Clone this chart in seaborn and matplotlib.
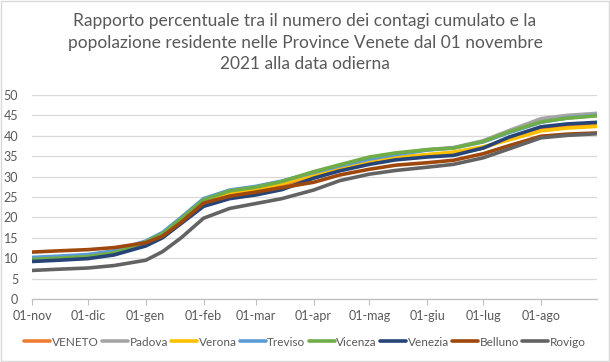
import pandas as pd
import numpy as np
import seaborn as sns
import matplotlib.pyplot as plt

# Data (percent of residents infected, cumulative)
dates = pd.to_datetime([
    "2021-11-01", "2021-11-15", "2021-12-01", "2021-12-15", "2022-01-01",
    "2022-01-10", "2022-01-20", "2022-02-01", "2022-02-15", "2022-03-01",
    "2022-03-15", "2022-04-01", "2022-04-15", "2022-05-01", "2022-05-15",
    "2022-06-01", "2022-06-15", "2022-07-01", "2022-07-15", "2022-08-01",
    "2022-08-15", "2022-08-31"])

veneto = [9.6, 9.9, 10.3, 11.1, 13.6, 15.6, 19.2, 23.6, 25.6, 26.5, 27.8, 30.0,
          31.8, 33.4, 34.4, 35.0, 35.6, 37.0, 39.4, 41.6, 42.5, 43.1]
padova = [10.0, 10.3, 10.7, 11.6, 14.0, 16.1, 19.8, 24.4, 26.5, 27.5, 28.8, 31.0,
          32.6, 34.3, 35.5, 36.6, 37.1, 38.8, 41.3, 44.2, 45.0, 45.5]
verona = [9.8, 10.1, 10.5, 11.4, 13.8, 15.8, 19.4, 24.0, 26.1, 27.0, 28.3, 30.4,
          32.2, 33.9, 34.8, 35.4, 36.0, 37.3, 39.0, 41.2, 41.9, 42.3]
treviso = [10.2, 10.5, 10.9, 11.8, 14.2, 16.3, 20.0, 24.6, 26.7, 27.6, 28.9, 31.0,
           32.6, 34.3, 35.4, 36.5, 37.0, 38.5, 40.8, 43.3, 44.4, 45.0]
vicenza = [9.7, 10.0, 10.4, 11.3, 14.0, 16.0, 19.7, 24.3, 26.5, 27.4, 28.8, 31.2,
           32.9, 34.8, 35.8, 36.6, 37.0, 38.6, 41.0, 43.4, 44.3, 44.9]
venezia = [9.2, 9.5, 9.9, 10.8, 13.0, 15.0, 18.5, 22.7, 24.6, 25.5, 26.8, 29.6,
           31.4, 33.0, 34.1, 34.8, 35.2, 37.0, 39.7, 42.2, 42.9, 43.3]
belluno = [11.5, 11.8, 12.1, 12.6, 13.8, 15.4, 18.8, 23.5, 25.2, 26.2, 27.3, 28.6,
           30.4, 31.8, 32.8, 33.4, 34.0, 35.6, 37.6, 39.9, 40.4, 40.7]
rovigo = [7.0, 7.3, 7.6, 8.2, 9.5, 11.6, 15.0, 19.8, 22.2, 23.4, 24.6, 26.7,
          29.0, 30.6, 31.5, 32.3, 33.0, 34.6, 36.8, 39.5, 40.1, 40.5]

series_names = ["VENETO", "Padova", "Verona", "Treviso", "Vicenza", "Venezia", "Belluno", "Rovigo"]
series_values = [veneto, padova, verona, treviso, vicenza, venezia, belluno, rovigo]
colors = ["#ED7D31", "#A5A5A5", "#FFC000", "#5B9BD5", "#70AD47", "#264478", "#9E480E", "#636363"]

month_ticks = pd.date_range("2021-11-01", "2022-08-01", freq="MS")
month_labels = ["01-nov", "01-dic", "01-gen", "01-feb", "01-mar", "01-apr",
                "01-mag", "01-giu", "01-lug", "01-ago"]

df = pd.concat([pd.DataFrame({"data": dates, "valore": v, "provincia": n})
                for n, v in zip(series_names, series_values)])

sns.set_theme(style="white")
plt.rcParams["font.family"] = ["Lato", "DejaVu Sans"]

fig = plt.figure(figsize=(6.1, 3.62), dpi=100)
ax = fig.add_axes([0.0525, 0.174, 0.926, 0.5636])

sns.lineplot(data=df, x="data", y="valore", hue="provincia", hue_order=series_names,
             palette=colors, linewidth=2.6, ax=ax)

ax.set_xlim(pd.Timestamp("2021-11-01"), pd.Timestamp("2022-08-31"))
ax.set_ylim(0, 50)
ax.set_yticks(np.arange(0, 51, 5))
ax.set_xticks(month_ticks)
ax.set_xticklabels(month_labels)
ax.grid(axis="y", color="#D9D9D9", linewidth=0.9)
ax.set_axisbelow(True)
ax.set_xlabel("")
ax.set_ylabel("")
for s in ["top", "right", "left"]:
    ax.spines[s].set_visible(False)
ax.spines["bottom"].set_color("#BFBFBF")
ax.spines["bottom"].set_linewidth(0.9)
ax.tick_params(axis="x", bottom=True, length=4, width=0.8, color="#BFBFBF",
               labelsize=9, labelcolor="#595959", pad=4)
ax.tick_params(axis="y", left=False, labelsize=9, labelcolor="#595959", pad=4)

fig.text(0.5, 0.965, "Rapporto percentuale tra il numero dei contagi cumulato e la\n"
         "popolazione residente nelle Province Venete dal 01 novembre\n"
         "2021 alla data odierna", ha="center", va="top", fontsize=12.5,
         color="#595959", linespacing=1.45)

ax.legend(loc="center", bbox_to_anchor=(0.5, 0.055), bbox_transform=fig.transFigure,
          ncol=8, frameon=False, fontsize=8.5, handlelength=2.2, handletextpad=0.15,
          columnspacing=0.25, labelcolor="#595959")

fig.patches.append(plt.Rectangle((0.002, 0.003), 0.996, 0.994, transform=fig.transFigure,
                                 fill=False, edgecolor="#D9D9D9", linewidth=1))

fig.savefig("out.png", dpi=100)
